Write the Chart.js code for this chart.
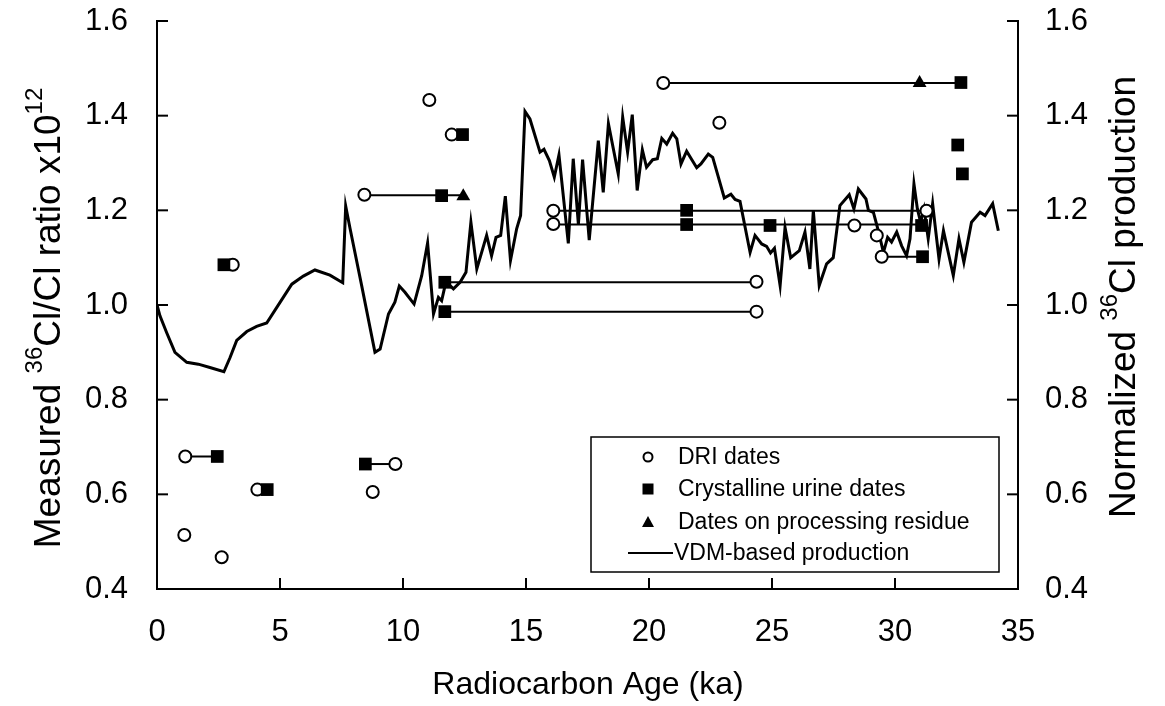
<!DOCTYPE html>
<html><head><meta charset="utf-8">
<script src="https://cdn.jsdelivr.net/npm/chart.js@4.4.0/dist/chart.umd.min.js"></script>
<style>html,body{margin:0;padding:0;background:#fff;}#wrap{position:relative;width:1165px;height:706px;}</style>
</head><body><div id="wrap"><canvas id="c" width="1165" height="706"></canvas></div>
<script>
// ---- data ----
const driX = [1.15, 1.11, 2.63, 3.08, 4.08, 8.77, 9.69, 8.43, 11.07, 11.98, 16.11, 16.11, 24.37, 24.37, 20.58, 22.86, 28.35, 29.26, 29.46, 31.28];
const driY = [0.68, 0.514, 0.467, 1.085, 0.61, 0.605, 0.664, 1.233, 1.433, 1.36, 1.199, 1.171, 1.049, 0.986, 1.469, 1.385, 1.168, 1.147, 1.102, 1.199];
const urineX = [2.45, 2.72, 4.48, 8.47, 11.57, 12.42, 11.7, 11.7, 21.53, 21.53, 24.92, 31.08, 31.12, 32.68, 32.55, 32.74];
const urineY = [0.68, 1.085, 0.61, 0.664, 1.231, 1.36, 1.048, 0.986, 1.2, 1.17, 1.168, 1.168, 1.102, 1.47, 1.338, 1.277];
const residueX = [12.45, 31.0];
const residueY = [1.23, 1.469];
// links between dates of the same sample: [fromAge, toAge, ratio]
const linkFrom = [1.15, 8.47, 8.43, 11.7, 11.7, 16.11, 16.11, 29.46, 20.58];
const linkTo   = [2.45, 9.69, 12.45, 24.37, 24.37, 31.28, 31.08, 31.12, 32.68];
const linkY    = [0.68, 0.664, 1.232, 1.048, 0.986, 1.199, 1.17, 1.102, 1.469];
const vdmX = [0,0.12,0.39,0.73,1.21,1.68,2.15,2.72,2.97,3.24,3.65,4.05,4.46,4.87,5.48,5.95,6.42,7.03,7.55,7.67,7.85,8.32,8.86,9.07,9.41,9.67,9.85,10.08,10.45,10.76,11.0,11.24,11.44,11.57,11.71,11.91,12.05,12.32,12.56,12.76,13.0,13.4,13.6,13.78,13.97,14.16,14.37,14.62,14.78,14.96,15.16,15.57,15.73,15.95,16.15,16.34,16.72,16.92,17.13,17.3,17.57,17.94,18.14,18.35,18.75,18.93,19.13,19.32,19.52,19.73,19.9,20.15,20.34,20.52,20.72,20.96,21.13,21.3,21.53,21.94,22.11,22.41,22.59,22.82,23.06,23.33,23.5,23.7,24.11,24.31,24.58,24.78,24.94,25.1,25.33,25.53,25.76,26.11,26.34,26.54,26.68,26.92,27.22,27.49,27.76,28.14,28.33,28.51,28.82,28.92,29.12,29.32,29.53,29.7,29.86,30.07,30.27,30.47,30.61,30.77,30.91,31.04,31.18,31.35,31.53,31.63,31.79,31.97,32.37,32.6,32.8,33.11,33.46,33.66,33.97,34.2];
const vdmY = [1.0,0.977,0.942,0.90,0.879,0.875,0.868,0.859,0.889,0.925,0.944,0.955,0.962,0.995,1.044,1.061,1.074,1.063,1.047,1.209,1.161,1.041,0.90,0.907,0.981,1.006,1.040,1.027,1.002,1.062,1.131,0.981,1.016,1.009,1.041,1.041,1.034,1.048,1.069,1.175,1.076,1.147,1.104,1.143,1.147,1.23,1.094,1.161,1.189,1.409,1.393,1.323,1.329,1.305,1.27,1.317,1.13,1.309,1.17,1.307,1.137,1.347,1.238,1.383,1.277,1.397,1.323,1.402,1.242,1.328,1.291,1.307,1.309,1.352,1.34,1.363,1.351,1.298,1.325,1.29,1.298,1.319,1.312,1.27,1.226,1.234,1.223,1.219,1.111,1.147,1.129,1.124,1.11,1.12,1.041,1.164,1.10,1.115,1.154,1.076,1.20,1.041,1.087,1.10,1.21,1.233,1.203,1.245,1.224,1.20,1.196,1.157,1.111,1.143,1.133,1.154,1.125,1.104,1.14,1.256,1.203,1.175,1.203,1.14,1.214,1.168,1.097,1.157,1.062,1.14,1.09,1.175,1.196,1.189,1.214,1.157];
const xTicks = [0, 5, 10, 15, 20, 25, 30, 35];
const yTicks = [0.4, 0.6, 0.8, 1.0, 1.2, 1.4, 1.6];
const legendLabels = ['DRI dates', 'Crystalline urine dates', 'Dates on processing residue', 'VDM-based production'];
const xTitle = 'Radiocarbon Age (ka)';
const yTitleParts = [['Measured ', 0], ['36', 1], ['Cl/Cl ratio x10', 0], ['12', 1]];
const y2TitleParts = [['Normalized ', 0], ['36', 1], ['Cl production', 0]];

// ---- build ----
const FAM = "'Liberation Sans', Arial, Helvetica, sans-serif";
const pts = (xs, ys) => xs.map((x, i) => ({x, y: ys[i]}));
const linkSets = linkFrom.map((a, i) => ({
  label: '_link' + i, data: [{x: a, y: linkY[i]}, {x: linkTo[i], y: linkY[i]}],
  showLine: true, borderColor: '#000', borderWidth: 2, pointRadius: 0, order: 5
}));

const inwardTicks = {
  id: 'inwardTicks',
  afterDatasetsDraw(chart) {
    const {ctx, chartArea: a, scales} = chart;
    ctx.save(); ctx.strokeStyle = '#000'; ctx.lineWidth = 2;
    yTicks.forEach(v => {
      const y = scales.y.getPixelForValue(v);
      ctx.beginPath(); ctx.moveTo(a.left, y); ctx.lineTo(a.left + 11, y); ctx.stroke();
      const y2 = scales.y2.getPixelForValue(v);
      ctx.beginPath(); ctx.moveTo(a.right, y2); ctx.lineTo(a.right - 11, y2); ctx.stroke();
    });
    xTicks.forEach(v => {
      const x = scales.x.getPixelForValue(v);
      ctx.beginPath(); ctx.moveTo(x, a.bottom); ctx.lineTo(x, a.bottom - 11); ctx.stroke();
    });
    ctx.restore();
  }
};

function drawRich(ctx, parts, cx, cy, size) {
  ctx.save();
  ctx.translate(cx, cy); ctx.rotate(-Math.PI / 2);
  ctx.fillStyle = '#000'; ctx.textBaseline = 'alphabetic'; ctx.textAlign = 'left';
  const fN = size + 'px ' + FAM, fS = Math.round(size * 0.66) + 'px ' + FAM;
  let total = 0; const ws = [];
  parts.forEach(p => { ctx.font = p[1] ? fS : fN; const w = ctx.measureText(p[0]).width; ws.push(w); total += w; });
  let x = -total / 2; const base = size * 0.36;
  parts.forEach((p, i) => { ctx.font = p[1] ? fS : fN; ctx.fillText(p[0], x, p[1] ? base - size * 0.5 : base); x += ws[i]; });
  ctx.restore();
}

const titles = {
  id: 'titles',
  afterDraw(chart) {
    const ctx = chart.ctx;
    drawRich(ctx, yTitleParts, 47, 318, 37);
    drawRich(ctx, y2TitleParts, 1122, 297, 37);
    ctx.save(); ctx.fillStyle = '#000'; ctx.font = '32px ' + FAM; ctx.textAlign = 'center'; ctx.textBaseline = 'middle';
    ctx.fillText(xTitle, 588, 685);
    ctx.restore();
  }
};

const legendBox = {
  id: 'legendBox',
  afterDraw(chart) {
    const ctx = chart.ctx;
    const bx = 591, by = 437, bw = 408, bh = 135;
    ctx.save();
    ctx.fillStyle = '#fff'; ctx.fillRect(bx, by, bw, bh);
    ctx.strokeStyle = '#000'; ctx.lineWidth = 1.5; ctx.strokeRect(bx, by, bw, bh);
    ctx.font = '23px ' + FAM; ctx.fillStyle = '#000'; ctx.textBaseline = 'middle'; ctx.textAlign = 'left';
    const rows = [457, 489, 522, 553], mx = 648, tx = 678;
    ctx.beginPath(); ctx.arc(mx, rows[0], 4.5, 0, Math.PI * 2); ctx.lineWidth = 2; ctx.strokeStyle = '#000'; ctx.stroke();
    ctx.fillRect(mx - 5.5, rows[1] - 5.5, 11, 11);
    ctx.beginPath(); ctx.moveTo(mx, rows[2] - 6); ctx.lineTo(mx + 6, rows[2] + 5); ctx.lineTo(mx - 6, rows[2] + 5); ctx.closePath(); ctx.fill();
    ctx.beginPath(); ctx.moveTo(628, rows[3]); ctx.lineTo(673, rows[3]); ctx.lineWidth = 2; ctx.stroke();
    legendLabels.forEach((t, i) => ctx.fillText(t, i === 3 ? 674 : tx, rows[i] + 1));
    ctx.restore();
  }
};

const tickFont = {family: FAM, size: 31};
new Chart(document.getElementById('c'), {
  type: 'scatter',
  data: {
    datasets: [
      {label: legendLabels[0], data: pts(driX, driY), pointStyle: 'circle', pointRadius: 6, pointBackgroundColor: '#fff', pointBorderColor: '#000', pointBorderWidth: 2, order: 1},
      {label: legendLabels[1], data: pts(urineX, urineY), pointStyle: 'rect', pointRadius: 9, pointBackgroundColor: '#000', pointBorderColor: '#000', pointBorderWidth: 0, order: 0},
      {label: legendLabels[2], data: pts(residueX, residueY), pointStyle: 'triangle', pointRadius: 8, pointBackgroundColor: '#000', pointBorderColor: '#000', pointBorderWidth: 0, order: 0},
      {label: legendLabels[3], data: pts(vdmX, vdmY), yAxisID: 'y2', showLine: true, borderColor: '#000', borderWidth: 3, pointRadius: 0, tension: 0, order: 4},
      ...linkSets
    ]
  },
  options: {
    responsive: false, animation: false, devicePixelRatio: 1,
    layout: {padding: {top: 21, left: 0, right: 0, bottom: 0}},
    plugins: {legend: {display: false}, tooltip: {enabled: false}},
    scales: {
      x: {type: 'linear', position: 'bottom', min: 0, max: 35,
          afterBuildTicks: s => { s.ticks = xTicks.map(v => ({value: v})); },
          ticks: {font: tickFont, color: '#000', padding: 0, maxRotation: 0, callback: v => String(v)},
          grid: {display: false, drawTicks: true, tickLength: 25}, border: {display: true, color: '#000', width: 2},
          afterFit: s => { s.height = 117; }},
      y: {type: 'linear', position: 'left', min: 0.4, max: 1.6,
          afterBuildTicks: s => { s.ticks = yTicks.map(v => ({value: v})); },
          ticks: {font: tickFont, color: '#000', padding: 0, callback: v => Number(v).toFixed(1)},
          grid: {display: false, drawTicks: true, tickLength: 29}, border: {display: true, color: '#000', width: 2},
          afterFit: s => { s.width = 157; }},
      y2: {type: 'linear', position: 'right', min: 0.4, max: 1.6,
          afterBuildTicks: s => { s.ticks = yTicks.map(v => ({value: v})); },
          ticks: {font: tickFont, color: '#000', padding: 0, callback: v => Number(v).toFixed(1)},
          grid: {display: false, drawTicks: true, tickLength: 27}, border: {display: true, color: '#000', width: 2},
          afterFit: s => { s.width = 147; }}
    }
  },
  plugins: [inwardTicks, titles, legendBox]
});
</script></body></html>
